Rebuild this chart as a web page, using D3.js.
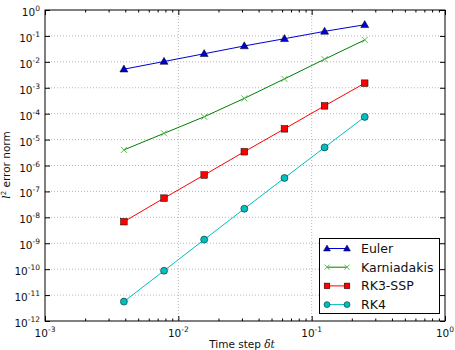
<!doctype html>
<html>
<head>
<meta charset="utf-8">
<script src="https://d3js.org/d3.v7.min.js"></script>
<style>
  body { margin: 0; background: #fff; }
  svg { font-family: "DejaVu Sans", sans-serif; }
</style>
</head>
<body>
<svg width="455" height="350"></svg>
<script>
// time steps 1/256 ... 1/4
var dt = [1/256, 1/128, 1/64, 1/32, 1/16, 1/8, 1/4];
var euler = [5.2e-3, 1.03e-2, 2.05e-2, 4.1e-2, 7.8e-2, 0.15, 0.27];
var karniadakis = [4.0e-6, 1.74e-5, 7.6e-5, 3.9e-4, 2.2e-3, 1.26e-2, 7.0e-2];
var rk3ssp = [6.8e-9, 5.5e-8, 4.3e-7, 3.4e-6, 2.6e-5, 2.0e-4, 1.5e-3];
var rk4 = [5.6e-12, 8.7e-11, 1.38e-9, 2.15e-8, 3.3e-7, 5.0e-6, 7.5e-5];
var xTickExp = [-3, -2, -1, 0];
var yTickExp = [0, -1, -2, -3, -4, -5, -6, -7, -8, -9, -10, -11, -12];

var series = [
  {name: "Euler", values: euler, color: "#0000d0", marker: "triangle"},
  {name: "Karniadakis", values: karniadakis, color: "#008000", marker: "x"},
  {name: "RK3-SSP", values: rk3ssp, color: "#ff0000", marker: "square"},
  {name: "RK4", values: rk4, color: "#00bfbf", marker: "circle"}
];

var svg = d3.select("svg");
var pLeft = 45, pRight = 445, pTop = 10, pBottom = 321;

var x = d3.scaleLog().domain([1e-3, 1]).range([pLeft, pRight]);
var y = d3.scaleLog().domain([1e-12, 1]).range([pBottom, pTop]);

// grid
var grid = svg.append("g").attr("stroke", "#888").attr("stroke-width", 0.6)
  .attr("stroke-dasharray", "1,2");
xTickExp.slice(1, -1).forEach(function(e) {
  grid.append("line").attr("x1", x(Math.pow(10, e))).attr("x2", x(Math.pow(10, e)))
    .attr("y1", pTop).attr("y2", pBottom);
});
yTickExp.slice(1, -1).forEach(function(e) {
  grid.append("line").attr("y1", y(Math.pow(10, e))).attr("y2", y(Math.pow(10, e)))
    .attr("x1", pLeft).attr("x2", pRight);
});

// minor x ticks
var minor = [];
for (var k = -3; k < 0; k++) for (var m = 2; m < 10; m++) minor.push(m * Math.pow(10, k));

var xMajor = xTickExp.map(function(e) { return Math.pow(10, e); });
var yMajor = yTickExp.map(function(e) { return Math.pow(10, e); });

function tickAxis(axis, vals, size) {
  return axis.tickValues(vals).tickSizeInner(-size).tickSizeOuter(0).tickFormat("");
}
[[d3.axisBottom, pBottom], [d3.axisTop, pTop]].forEach(function(a) {
  var g = svg.append("g").attr("transform", "translate(0," + a[1] + ")");
  g.call(tickAxis(a[0](x), xMajor, 5));
  g.append("g").call(tickAxis(a[0](x), minor, 2.5));
  g.selectAll(".domain").remove();
});
[[d3.axisLeft, pLeft], [d3.axisRight, pRight]].forEach(function(a) {
  var g = svg.append("g").attr("transform", "translate(" + a[1] + ",0)");
  g.call(tickAxis(a[0](y), yMajor, 5));
  g.selectAll(".domain").remove();
});

// tick labels
function powLabel(sel, e) {
  sel.append("tspan").text("10");
  sel.append("tspan").attr("dy", -5).attr("font-size", 7.5).text(e);
}
xTickExp.forEach(function(e) {
  var t = svg.append("text").attr("x", x(Math.pow(10, e))).attr("y", 337)
    .attr("text-anchor", "middle").attr("font-size", 10.5).attr("fill", "#111");
  powLabel(t, e);
});
yTickExp.forEach(function(e) {
  var t = svg.append("text").attr("x", 40).attr("y", y(Math.pow(10, e)) + 6)
    .attr("text-anchor", "end").attr("font-size", 10.5).attr("fill", "#111");
  powLabel(t, e);
});

// axis labels
var xl = svg.append("text").attr("x", 242).attr("y", 348).attr("text-anchor", "middle")
  .attr("font-size", 10.5).attr("fill", "#111");
xl.append("tspan").text("Time step ");
xl.append("tspan").attr("font-style", "italic").attr("font-family", "DejaVu Serif").text("δt");

var yl = svg.append("text").attr("transform", "translate(10,165) rotate(-90)")
  .attr("text-anchor", "middle").attr("font-size", 10.5).attr("fill", "#111");
yl.append("tspan").attr("font-style", "italic").attr("font-family", "DejaVu Serif").text("l");
yl.append("tspan").attr("dy", -4).attr("font-size", 7).text("2");
yl.append("tspan").attr("dy", 4).text(" error norm");

// marker drawing
function drawMarker(g, type, cx, cy, color, sc) {
  sc = sc || 1;
  if (type === "triangle") {
    g.append("path").attr("d", d3.symbol(d3.symbolTriangle, 28 * sc * sc)())
      .attr("transform", "translate(" + cx + "," + (cy + 0.5) + ")")
      .attr("fill", color).attr("stroke", "#000").attr("stroke-width", 0.5);
  } else if (type === "square") {
    var h = 3.3 * sc;
    g.append("rect").attr("x", cx - h).attr("y", cy - h).attr("width", 2 * h).attr("height", 2 * h)
      .attr("fill", color).attr("stroke", "#000").attr("stroke-width", 0.5);
  } else if (type === "circle") {
    g.append("circle").attr("cx", cx).attr("cy", cy).attr("r", 3.5 * sc)
      .attr("fill", color).attr("stroke", "#000").attr("stroke-width", 0.5);
  } else {
    var d = 3 * sc;
    g.append("path").attr("d", "M" + -d + "," + -d + "L" + d + "," + d + "M" + -d + "," + d + "L" + d + "," + -d)
      .attr("transform", "translate(" + cx + "," + cy + ")")
      .attr("stroke", "#55bb55").attr("stroke-width", 1).attr("fill", "none");
  }
}

var line = d3.line().x(function(d) { return x(d[0]); }).y(function(d) { return y(d[1]); });
series.forEach(function(s) {
  var pts = dt.map(function(d, i) { return [d, s.values[i]]; });
  svg.append("path").attr("d", line(pts)).attr("fill", "none")
    .attr("stroke", s.color).attr("stroke-width", 1);
  var g = svg.append("g");
  pts.forEach(function(p) { drawMarker(g, s.marker, x(p[0]), y(p[1]), s.color); });
});

// frame
svg.append("rect").attr("x", pLeft).attr("y", pTop).attr("width", pRight - pLeft)
  .attr("height", pBottom - pTop).attr("fill", "none").attr("stroke", "#000").attr("stroke-width", 1);

// legend
var lg = svg.append("g");
lg.append("rect").attr("x", 319.5).attr("y", 238.5).attr("width", 120).attr("height", 75)
  .attr("fill", "#fff").attr("stroke", "#000").attr("stroke-width", 1);
series.forEach(function(s, i) {
  var ly = 248.5 + i * 18.7;
  lg.append("line").attr("x1", 327).attr("x2", 347).attr("y1", ly).attr("y2", ly)
    .attr("stroke", s.color).attr("stroke-width", 1);
  drawMarker(lg, s.marker, 327, ly, s.color, 0.85);
  drawMarker(lg, s.marker, 347, ly, s.color, 0.85);
  lg.append("text").attr("x", 361).attr("y", ly + 4.5).attr("font-size", 12.5)
    .attr("fill", "#111").text(s.name);
});
</script>
</body>
</html>
